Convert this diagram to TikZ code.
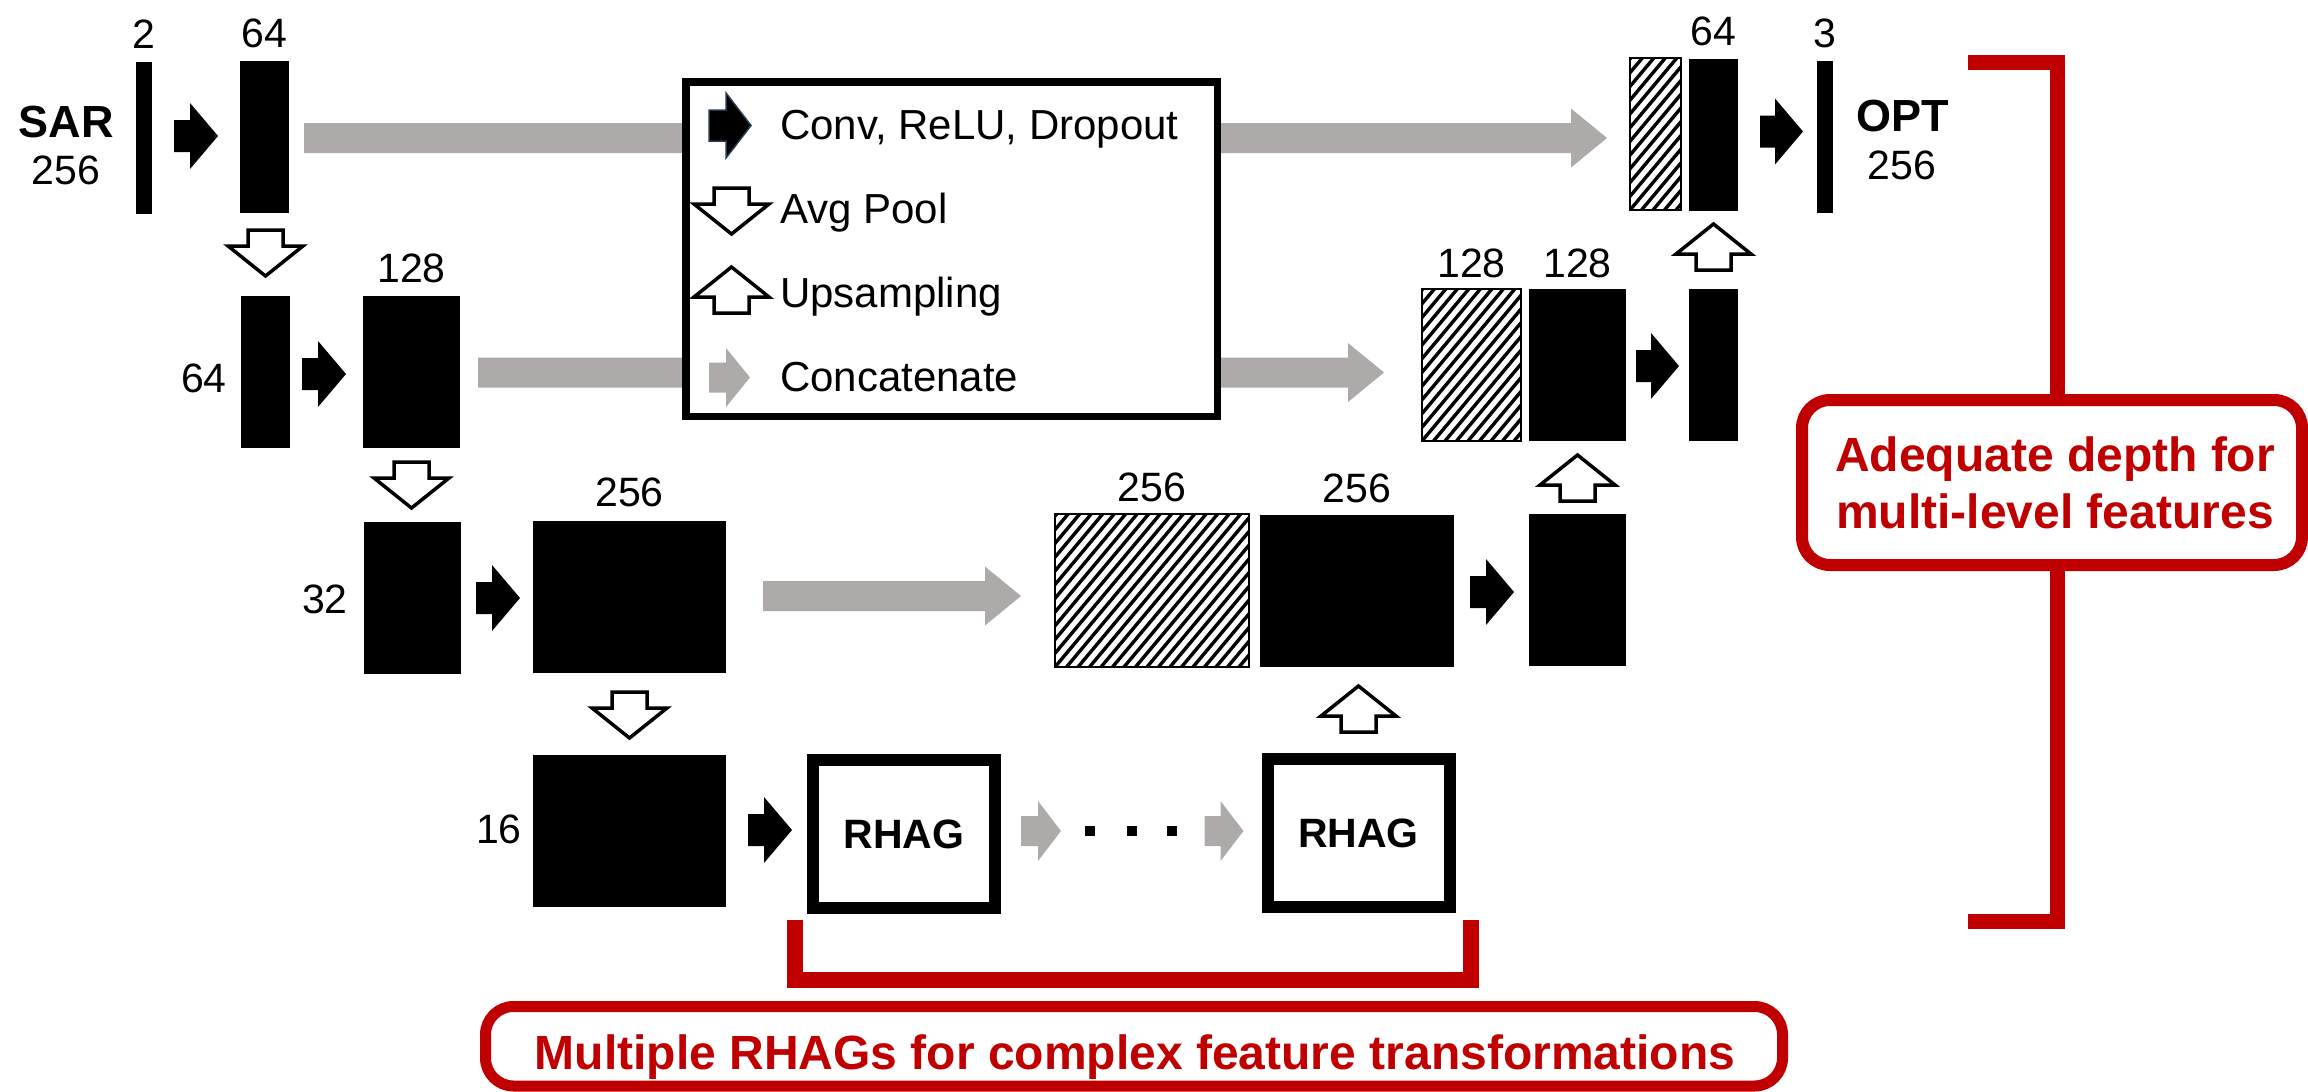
\documentclass[tikz,border=0pt]{standalone}
\usepackage{fontspec}
\setmainfont{Liberation Sans}
\usetikzlibrary{calc}

\definecolor{catgray}{RGB}{174,170,169}
\definecolor{noteRed}{RGB}{192,0,0}
\definecolor{iconEdge}{RGB}{40,58,78}

% horizontal block arrow: style, start (shaft end), tip, shaft half-width, head half-width, head length
\newcommand\harrow[6]{%
  \path[#1] ($#2+(0,#4)$) -- ($#3+(-#6,#4)$) -- ($#3+(-#6,#5)$) -- #3
    -- ($#3+(-#6,-#5)$) -- ($#3+(-#6,-#4)$) -- ($#2+(0,-#4)$) -- cycle;}
\newcommand\convarrow[2]{\harrow{convfill}{#1}{#2}{16}{33}{28}}
\newcommand\catarrow[2]{\harrow{catfill}{#1}{#2}{15}{29.5}{36}}
\newcommand\smallcat[2]{\harrow{catfill}{#1}{#2}{15}{30}{23}}

% hollow vertical arrow: base point, direction (1 = down, -1 = up)
\newcommand\hollowarrow[2]{%
  \draw[hollow] ($#1+(-17.5,0)$) -- ($#1+(-17.5,16*#2)$) -- ($#1+(-37.5,16*#2)$)
    -- ($#1+(0,46*#2)$) -- ($#1+(37.5,16*#2)$) -- ($#1+(17.5,16*#2)$)
    -- ($#1+(17.5,0)$) -- cycle;}

% diagonal stripes inside a concatenated feature block
\newcommand\hatchfill[1]{%
  \begin{scope}
    \clip (#1.south west) rectangle (#1.north east);
    \foreach \k in {-15,...,18}
      \draw[hatchline] ($(#1.south west)+(\k*11.5,0)$) -- ++(134,-160);
  \end{scope}
  \draw[hatchedge] (#1.south west) rectangle (#1.north east);}

\begin{document}
\begin{tikzpicture}[x=1pt,y=-1pt,
  blk/.style={fill=black, inner sep=0, outer sep=0},
  hatchbox/.style={inner sep=0, outer sep=0},
  hatchline/.style={line width=3.4, black},
  hatchedge/.style={draw=black, line width=2},
  convfill/.style={fill=black},
  catfill/.style={fill=catgray},
  hollow/.style={draw=black, fill=white, line width=3.5, line join=miter},
  num/.style={font=\fontsize{41}{49}\selectfont, inner sep=0},
  legtext/.style={font=\fontsize{42}{50}\selectfont, inner sep=0, anchor=base west},
  iotext/.style={font=\fontsize{45}{54}\selectfont\bfseries, inner sep=0},
  rhag/.style={draw=black, line width=12, fill=white, inner sep=0, outer sep=0,
    minimum width=182, minimum height=148, font=\fontsize{41}{49}\selectfont\bfseries},
  legendbox/.style={draw=black, line width=7.5, fill=white, inner sep=0, outer sep=0},
  bracket/.style={draw=noteRed, line width=15, line join=miter},
  callout/.style={draw=noteRed, line width=12, fill=white, rounded corners=28,
    inner sep=0, outer sep=0},
  notetext/.style={text=noteRed, font=\fontsize{48}{57}\selectfont\bfseries,
    inner sep=0, align=center}
]
\useasboundingbox (0,0) rectangle (2308,1092);

% ---------- feature blocks ----------
% level 1
\node[blk, minimum width=16, minimum height=152] (sar) at (144,138) {};
\node[blk, minimum width=49, minimum height=152] (e1) at (264.5,137) {};
\node[hatchbox, minimum width=51, minimum height=152] (cat1) at (1655.5,134) {};
\node[blk, minimum width=49, minimum height=152] (d1) at (1713.5,135) {};
\node[blk, minimum width=16, minimum height=152] (out) at (1825,137) {};
% level 2
\node[blk, minimum width=49, minimum height=152] (p2) at (265.5,372) {};
\node[blk, minimum width=97, minimum height=152] (e2) at (411.5,372) {};
\node[hatchbox, minimum width=99, minimum height=152] (cat2) at (1471.5,365) {};
\node[blk, minimum width=97, minimum height=152] (d2) at (1577.5,365) {};
\node[blk, minimum width=49, minimum height=152] (u2) at (1713.5,365) {};
% level 3
\node[blk, minimum width=97, minimum height=152] (p3) at (412.5,598) {};
\node[blk, minimum width=193, minimum height=152] (e3) at (629.5,597) {};
\node[hatchbox, minimum width=194, minimum height=153] (cat3) at (1152,590.5) {};
\node[blk, minimum width=194, minimum height=152] (d3) at (1357,591) {};
\node[blk, minimum width=97, minimum height=152] (u3) at (1577.5,590) {};
% level 4
\node[blk, minimum width=193, minimum height=152] (p4) at (629.5,831) {};
\node[rhag] (rhag1) at (904,834) {RHAG};
\node[rhag] (rhag2) at (1358.5,833) {RHAG};

\hatchfill{cat1}
\hatchfill{cat2}
\hatchfill{cat3}

% ---------- channel labels ----------
\node[num, anchor=base] (t2)    at ($(sar.north)+(0,-14)$) {2};
\node[num, anchor=base] (te1)   at ($(e1.north)+(0,-14)$) {64};
\node[num, anchor=base] (td1)   at ($(d1.north)+(0,-14)$) {64};
\node[num, anchor=base] (tout)  at ($(out.north)+(0,-14)$) {3};
\node[num, anchor=base] (te2)   at ($(e2.north)+(0,-14)$) {128};
\node[num, anchor=base] (tcat2) at ($(cat2.north)+(0,-12)$) {128};
\node[num, anchor=base] (td2)   at ($(d2.north)+(0,-12)$) {128};
\node[num, anchor=base] (te3)   at ($(e3.north)+(0,-15)$) {256};
\node[num, anchor=base] (tcat3) at ($(cat3.north)+(0,-13)$) {256};
\node[num, anchor=base] (td3)   at ($(d3.north)+(0,-13)$) {256};
\node[num, anchor=east] (tp2) at ($(p2.west)+(-14,6)$) {64};
\node[num, anchor=east] (tp3) at ($(p3.west)+(-16,1)$) {32};
\node[num, anchor=east] (tp4) at ($(p4.west)+(-11,-2)$) {16};
\node[iotext] (sarname) at (66,122) {SAR};
\node[num] (sarsize) at (66,170) {256};
\node[iotext] (optname) at (1903,116) {OPT};
\node[num] (optsize) at (1902,165) {256};

% ---------- skip connections (concatenate) ----------
\coordinate (g1s) at ($(e1.east)+(15,1)$);
\coordinate (g1t) at ($(cat1.west |- g1s)+(-23,0)$);
\coordinate (g2s) at ($(e2.east)+(18,0.5)$);
\coordinate (g2t) at ($(cat2.west |- g2s)+(-38,0)$);
\coordinate (g3s) at ($(e3.east)+(37,-1)$);
\coordinate (g3t) at ($(cat3.west |- g3s)+(-34,0)$);
\catarrow{(g1s)}{(g1t)}
\catarrow{(g2s)}{(g2t)}
\catarrow{(g3s)}{(g3t)}

% ---------- legend ----------
\node[legendbox, minimum width=531.5, minimum height=334.5] (legend) at (951.5,249) {};
\coordinate (lcs) at (709,125.5);
\coordinate (lct) at (751,125.5);
\harrow{fill=black, draw=iconEdge, line width=1.5}{(lcs)}{(lct)}{15.5}{32.5}{25}
\coordinate (lpool) at (731.5,188);
\hollowarrow{(lpool)}{1}
\coordinate (lup) at (731.5,313);
\hollowarrow{(lup)}{-1}
\coordinate (lcats) at (709,377.5);
\coordinate (lcatt) at (750,377.5);
\harrow{catfill}{(lcats)}{(lcatt)}{15}{29.5}{24}
\node[legtext] (lconv) at (780,139) {Conv, ReLU, Dropout};
\node[legtext] (lavg)  at (780,223) {Avg Pool};
\node[legtext] (lupt)  at (780,307) {Upsampling};
\node[legtext] (lcat)  at (780,391) {Concatenate};

% ---------- convolution steps ----------
\coordinate (k1s)  at ($(sar.east)+(22,-2)$);
\coordinate (k1t)  at ($(e1.west |- k1s)+(-22,0)$);
\coordinate (k1bs) at ($(d1.east)+(22,-3.5)$);
\coordinate (k1bt) at ($(out.west |- k1bs)+(-14,0)$);
\coordinate (k2s)  at ($(p2.east)+(12,2)$);
\coordinate (k2t)  at ($(e2.west |- k2s)+(-17,0)$);
\coordinate (k2bs) at ($(d2.east)+(10,1)$);
\coordinate (k2bt) at ($(u2.west |- k2bs)+(-10,0)$);
\coordinate (k3s)  at ($(p3.east)+(15,0)$);
\coordinate (k3t)  at ($(e3.west |- k3s)+(-13,0)$);
\coordinate (k3bs) at ($(d3.east)+(16,1)$);
\coordinate (k3bt) at ($(u3.west |- k3bs)+(-15,0)$);
\coordinate (k4s)  at ($(p4.east)+(22,-1)$);
\coordinate (k4t)  at ($(rhag1.west |- k4s)+(-21,0)$);
\convarrow{(k1s)}{(k1t)}
\convarrow{(k1bs)}{(k1bt)}
\convarrow{(k2s)}{(k2t)}
\convarrow{(k2bs)}{(k2bt)}
\convarrow{(k3s)}{(k3t)}
\convarrow{(k3bs)}{(k3bt)}
\convarrow{(k4s)}{(k4t)}

% ---------- chain of RHAGs ----------
\coordinate (s1s) at ($(rhag1.east)+(26,-3)$);
\coordinate (s1t) at ($(s1s)+(40,0)$);
\coordinate (s2t) at ($(rhag2.west |- s1s)+(-24,0)$);
\coordinate (s2s) at ($(s2t)+(-39,0)$);
\smallcat{(s1s)}{(s1t)}
\smallcat{(s2s)}{(s2t)}
\foreach \dx in {69,111,151}
  \fill[black] ($(s1s)+(\dx,0)$) +(-5,-5) rectangle +(5,5);

% ---------- pooling and upsampling ----------
\coordinate (pl1) at ($(e1.south)+(1,17)$);
\coordinate (pl2) at ($(e2.south)+(0,14)$);
\coordinate (pl3) at ($(e3.south)+(0,19)$);
\coordinate (up1) at ($(u2.north)+(0,-19)$);
\coordinate (up2) at ($(u3.north)+(0,-13)$);
\coordinate (up3) at ($(rhag2.north)+(0,-27)$);
\hollowarrow{(pl1)}{1}
\hollowarrow{(pl2)}{1}
\hollowarrow{(pl3)}{1}
\hollowarrow{(up1)}{-1}
\hollowarrow{(up2)}{-1}
\hollowarrow{(up3)}{-1}

% ---------- annotations ----------
\draw[bracket] (1968,62.5) -- (2057.5,62.5) -- (2057.5,921) -- (1968,921);
\node[callout, minimum width=500, minimum height=165] (depthnote) at (2052,482.5) {};
\node[notetext] (depthtext) at (2055,482.5) {Adequate depth for\\multi-level features};

\draw[bracket, line width=16] (795,920) -- (795,980) -- (1471,980) -- (1471,920);
\node[callout, line width=11, minimum width=1297, minimum height=79.5] (rhagnote) at (1134,1046.25) {};
\node[notetext, anchor=base] (rhagtext) at (1135,1069) {Multiple RHAGs for complex feature transformations};
\end{tikzpicture}
\end{document}
